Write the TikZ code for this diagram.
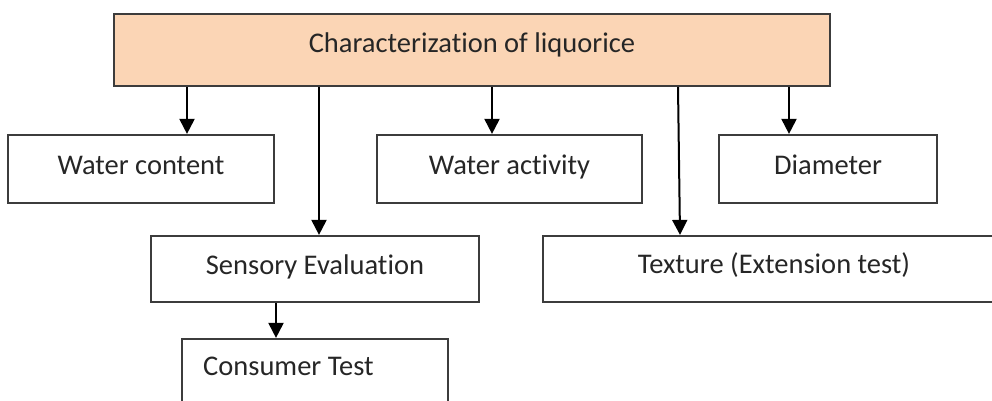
\documentclass[tikz,border=0pt]{standalone}
\usepackage{fontspec}
\setmainfont{Carlito}[RawFeature={-liga;-clig;-dlig}]
\usetikzlibrary{arrows.meta}
\definecolor{peach}{RGB}{251,213,181}
\definecolor{edge}{RGB}{60,60,60}
\begin{document}
\begin{tikzpicture}[x=1pt,y=-1pt,
  box/.style={draw=edge,line width=2.2pt,rectangle,inner sep=0pt,font=\fontsize{28.5}{30}\selectfont,text=black!85,text height=19pt,text depth=9pt},
  arr/.style={draw=black,line width=2pt,-{Triangle[width=15pt,length=15pt]}}]
\useasboundingbox (0,0) rectangle (992,401);
\clip (0,0) rectangle (992,401);
\node[box,fill=peach,minimum width=716pt,minimum height=72pt,text depth=13pt] (top) at (472,50) {Characterization of liquorice};
\node[box,minimum width=266pt,minimum height=68pt] (wc) at (141,169) {Water content};
\node[box,minimum width=265pt,minimum height=68pt] (wa) at (509.5,169) {Water activity};
\node[box,minimum width=218pt,minimum height=68pt] (dia) at (828,169) {Diameter};
\node[box,minimum width=328pt,minimum height=66pt] (sen) at (315,269) {Sensory Evaluation};
\node[box,minimum width=462pt,minimum height=66pt,text depth=11pt] (tex) at (774,269) {Texture (Extension test)};
\node[box,minimum width=266pt,minimum height=90pt] (con) at (315,384) {};
\node[font=\fontsize{28.5}{30}\selectfont,text=black!85,anchor=base west,inner sep=0pt] (contxt) at (203,375) {Consumer Test};
\coordinate (a1) at (187,0);
\coordinate (a2) at (319,0);
\coordinate (a3) at (492,0);
\coordinate (a4) at (678,0);
\coordinate (a4b) at (680,0);
\coordinate (a5) at (789,0);
\coordinate (a6) at (276,0);
\draw[arr] (top.south -| a1) -- (wc.north -| a1);
\draw[arr] (top.south -| a2) -- (sen.north -| a2);
\draw[arr] (top.south -| a3) -- (wa.north -| a3);
\draw[arr] (top.south -| a4) -- (tex.north -| a4b);
\draw[arr] (top.south -| a5) -- (dia.north -| a5);
\draw[arr] (sen.south -| a6) -- (con.north -| a6);
\end{tikzpicture}
\end{document}
